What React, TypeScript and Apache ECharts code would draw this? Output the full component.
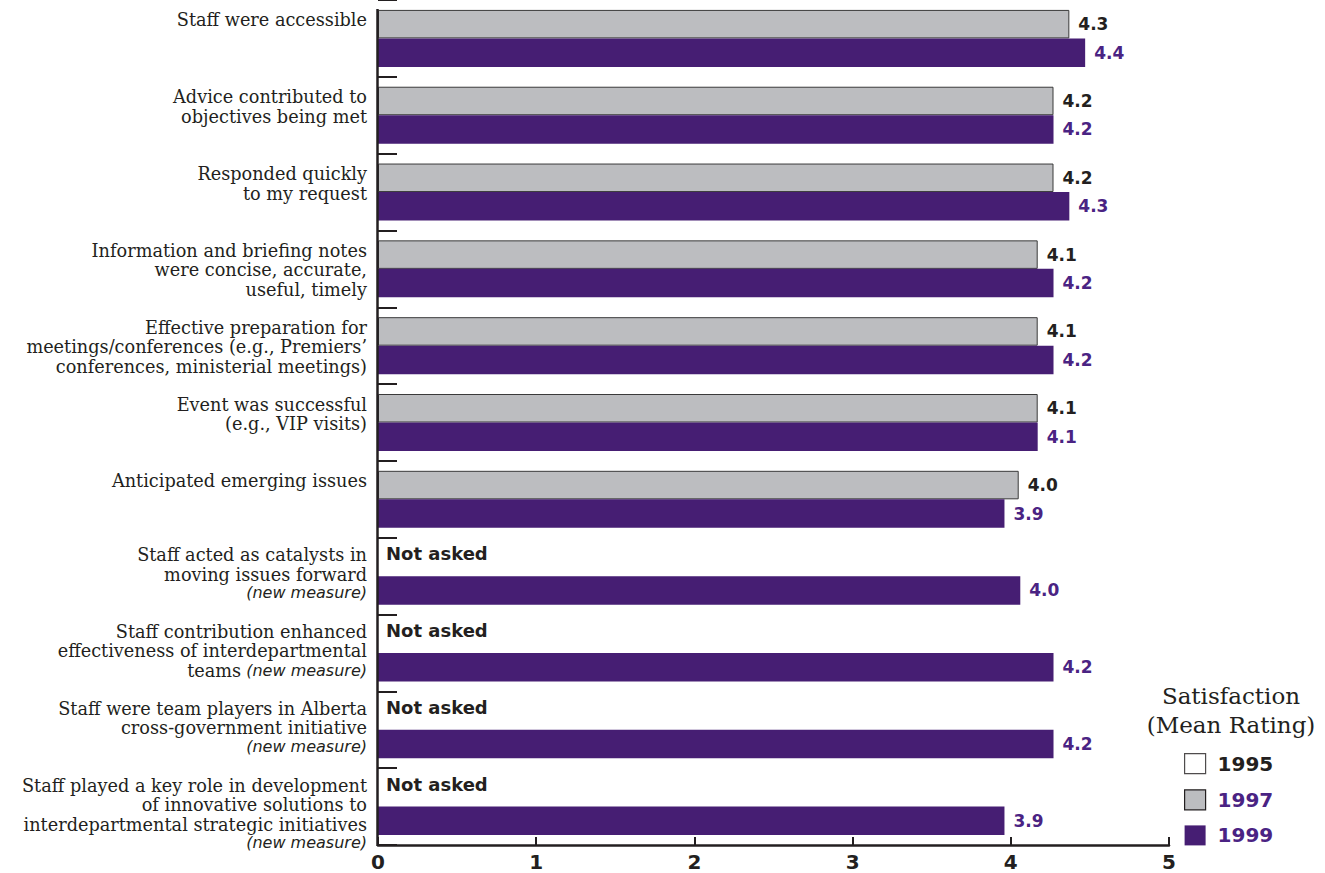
import React, { useEffect, useRef } from "react";
import * as echarts from "echarts";

// ---------- data ----------
const categoryLines: string[][] = [
  ["Staff were accessible"],
  ["Advice contributed to", "objectives being met"],
  ["Responded quickly", "to my request"],
  ["Information and briefing notes", "were concise, accurate,", "useful, timely"],
  ["Effective preparation for", "meetings/conferences (e.g., Premiers\u2019", "conferences, ministerial meetings)"],
  ["Event was successful", "(e.g., VIP visits)"],
  ["Anticipated emerging issues"],
  ["Staff acted as catalysts in", "moving issues forward"],
  ["Staff contribution enhanced", "effectiveness of interdepartmental", "teams"],
  ["Staff were team players in Alberta", "cross-government initiative"],
  ["Staff played a key role in development", "of innovative solutions to", "interdepartmental strategic initiatives"],
];
const newMeasure: (string | null)[] = [null, null, null, null, null, null, null, "line", "inline", "line", "line"];
const newMeasureText = "(new measure)";
const categories = categoryLines.map((l) => l.join(" "));

// bar lengths
const values1997: (number | null)[] = [4.37, 4.27, 4.27, 4.17, 4.17, 4.17, 4.05, null, null, null, null];
const values1999: number[] = [4.47, 4.27, 4.37, 4.27, 4.27, 4.17, 3.96, 4.06, 4.27, 4.27, 3.96];
// printed ratings
const printed1997: (string | null)[] = ["4.3", "4.2", "4.2", "4.1", "4.1", "4.1", "4.0", null, null, null, null];
const printed1999: string[] = ["4.4", "4.2", "4.3", "4.2", "4.2", "4.1", "3.9", "4.0", "4.2", "4.2", "3.9"];
const notAskedText = "Not asked";

const xMin = 0;
const xMax = 5;
const xInterval = 1;
const legendYears = ["1995", "1997", "1999"];
const legendTitle = ["Satisfaction", "(Mean Rating)"];

// ---------- styles ----------
const DARK = "#231f20";
const GREY = "#bcbdc0";
const PURPLE = "#461e73";
const PURPLE_TEXT = "#4a2383";
const SERIF = "DejaVu Serif";
const SANS = "DejaVu Sans";
const SERIF_LH = 19.5;
const NEW_LH = 17;

const rich: Record<string, any> = {
  s: { fontFamily: SERIF, fontSize: 17.7, lineHeight: SERIF_LH, color: DARK },
  n: { fontFamily: SANS, fontStyle: "italic", fontSize: 16, lineHeight: NEW_LH, color: DARK },
};

function buildLabel(i: number): string {
  const lines = categoryLines[i];
  const nm = newMeasure[i];
  const parts: string[] = lines.map((l, j) => {
    let s = `{s|${l}}`;
    if (nm === "inline" && j === lines.length - 1) s += `{n| ${newMeasureText}}`;
    return s;
  });
  const hs: number[] = lines.map(() => SERIF_LH);
  if (nm === "line") {
    parts.push(`{n|${newMeasureText}}`);
    hs.push(NEW_LH);
  }
  const d = nm ? -21 : -18;
  const sum = hs.reduce((a, b) => a + b, 0);
  const h0 = hs[0];
  let pTop = 0;
  let pBot = h0 - 2 * d - sum;
  if (pBot < 0) {
    pBot = 0;
    pTop = 2 * d + sum - h0;
  }
  if (pTop > 0.1) {
    rich["pt" + i] = { fontSize: 1, lineHeight: pTop };
    parts.unshift(`{pt${i}| }`);
  }
  if (pBot > 0.1) {
    rich["pb" + i] = { fontSize: 1, lineHeight: pBot };
    parts.push(`{pb${i}| }`);
  }
  return parts.join("\n");
}
const yLabels = categories.map((_, i) => buildLabel(i));

const valueLabelStyle = {
  show: true,
  position: "right" as const,
  distance: 9,
  fontFamily: SANS,
  fontWeight: "bold" as const,
  fontSize: 17,
};

export default function App() {
  const ref = useRef<HTMLDivElement>(null);

  useEffect(() => {
    if (!ref.current) return;
    const chart = echarts.init(ref.current, null, { renderer: "svg" });
    const option: any = {
      animation: false,
      backgroundColor: "#ffffff",
      grid: { left: 378, right: 156, top: -1, bottom: 28, containLabel: false },
      xAxis: {
        type: "value",
        min: xMin,
        max: xMax,
        interval: xInterval,
        axisLine: { show: true, lineStyle: { color: DARK, width: 2.5 } },
        axisTick: { show: true, inside: true, length: 8, lineStyle: { color: DARK, width: 2 } },
        axisLabel: { fontFamily: SANS, fontWeight: "bold", fontSize: 20, color: DARK, margin: 7 },
        splitLine: { show: false },
      },
      yAxis: {
        type: "category",
        inverse: true,
        data: categories,
        axisLine: { show: false },
        axisTick: { show: true, inside: true, length: 19, lineStyle: { color: DARK, width: 2 } },
        axisLabel: {
          interval: 0,
          margin: 11,
          align: "right",
          formatter: (_v: string, idx: number) => yLabels[idx],
          rich,
        },
        splitLine: { show: false },
      },
      legend: {
        orient: "vertical",
        left: 1184,
        top: 753,
        padding: 0,
        itemWidth: 21,
        itemHeight: 20,
        itemGap: 15,
        selectedMode: false,
        textStyle: { fontFamily: SANS, fontWeight: "bold", fontSize: 20, padding: [0, 0, 0, 7] },
        data: [
          { name: legendYears[0], icon: "rect", itemStyle: { color: "#ffffff", borderColor: DARK, borderWidth: 1.2 }, textStyle: { color: DARK } },
          { name: legendYears[1], icon: "rect", itemStyle: { color: GREY, borderColor: DARK, borderWidth: 1.2 }, textStyle: { color: PURPLE_TEXT } },
          { name: legendYears[2], icon: "rect", itemStyle: { color: PURPLE, borderWidth: 0 }, textStyle: { color: PURPLE_TEXT } },
        ],
      },
      graphic: [
        { type: "line", z: 10, shape: { x1: 377.5, y1: 9, x2: 377.5, y2: 846 }, style: { stroke: DARK, lineWidth: 2.5 } },
        { type: "text", x: 1231, y: 696, style: { text: legendTitle[0], font: `23px "${SERIF}"`, fill: DARK, align: "center", verticalAlign: "middle" } },
        { type: "text", x: 1231, y: 725, style: { text: legendTitle[1], font: `23px "${SERIF}"`, fill: DARK, align: "center", verticalAlign: "middle" } },
      ],
      series: [
        { name: legendYears[0], type: "scatter", data: [], itemStyle: { color: "#ffffff", borderColor: DARK, borderWidth: 1.2 } },
        {
          name: legendYears[1],
          type: "bar",
          barWidth: 28.5,
          barGap: "0%",
          itemStyle: { color: GREY, borderColor: "#3a3a3a", borderWidth: 1 },
          label: { ...valueLabelStyle, color: DARK, formatter: (p: any) => printed1997[p.dataIndex] ?? "" },
          data: values1997.map((v) =>
            v == null
              ? { value: 0, itemStyle: { borderWidth: 0 }, label: { formatter: notAskedText, fontSize: 18, distance: 8, offset: [0, -8] } }
              : { value: v }
          ),
        },
        {
          name: legendYears[2],
          type: "bar",
          barWidth: 28.5,
          barGap: "0%",
          itemStyle: { color: PURPLE },
          label: { ...valueLabelStyle, color: PURPLE_TEXT, formatter: (p: any) => printed1999[p.dataIndex] },
          data: values1999,
        },
      ],
    };
    chart.setOption(option);
    return () => chart.dispose();
  }, []);

  return (
    <div
      ref={ref}
      style={{ position: "fixed", left: 0, top: 0, width: 1325, height: 873, background: "#fff" }}
    />
  );
}
